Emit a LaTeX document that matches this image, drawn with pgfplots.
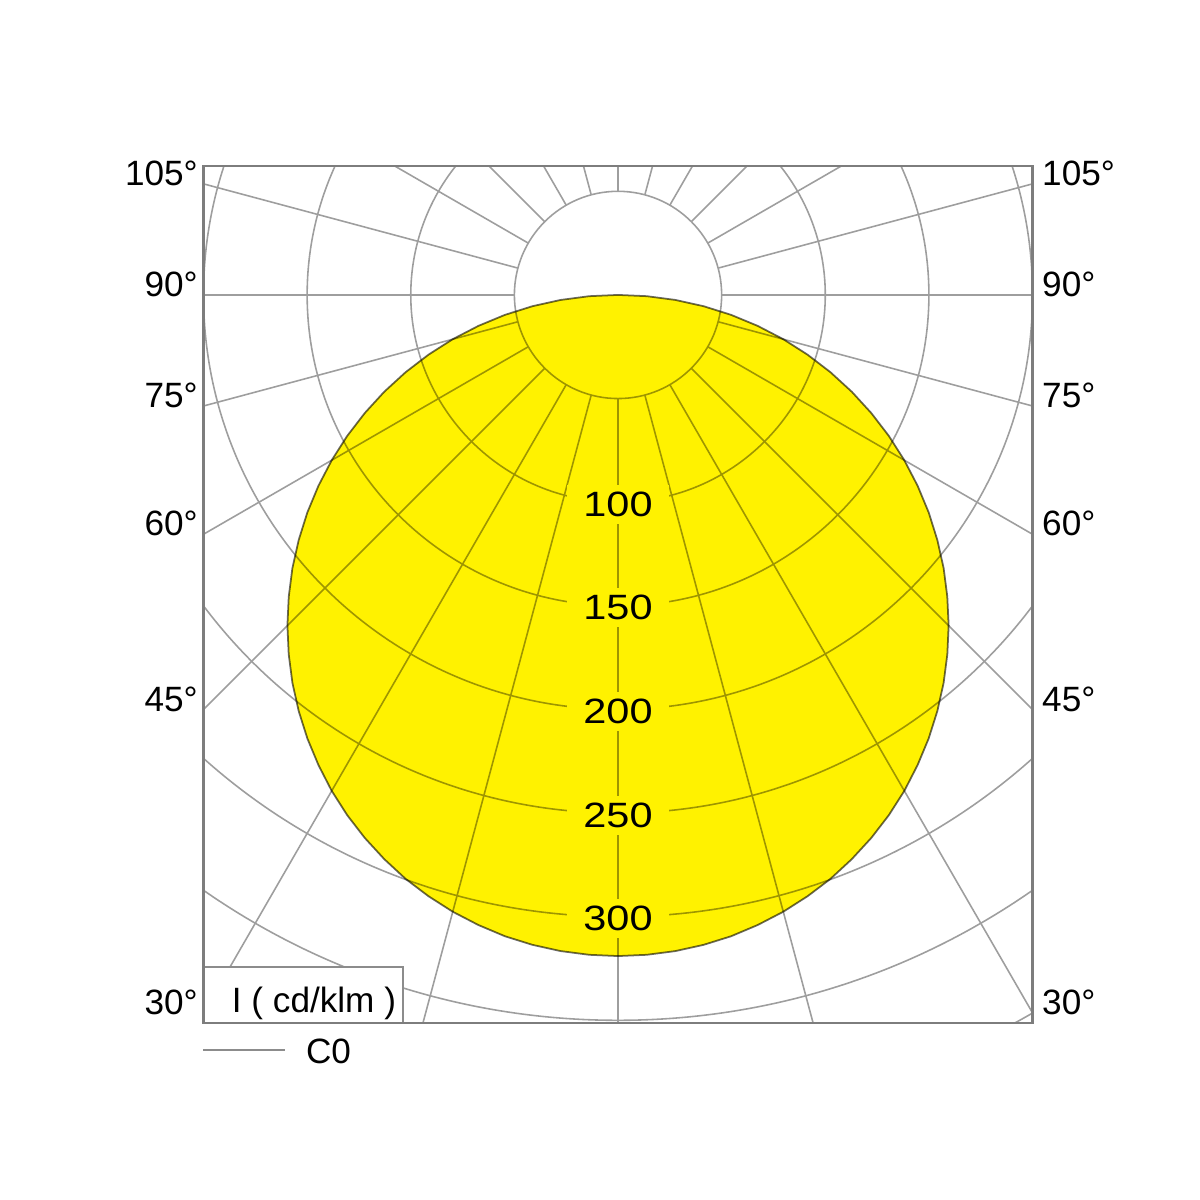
\documentclass[border=0pt]{standalone}
\usepackage{fontspec}
\setmainfont{Liberation Sans}
\usepackage{pgfplots}
\pgfplotsset{compat=1.18}
\definecolor{gridc}{RGB}{158,158,158}
\definecolor{framec}{RGB}{125,125,125}
\definecolor{curvec}{RGB}{105,105,105}
\definecolor{legc}{RGB}{140,140,140}
\begin{document}
\begin{tikzpicture}
\begin{axis}[x=0.020725cm, y=0.020725cm,
  xmin=-200, xmax=200, ymin=-351.3, ymax=62.2,
  hide axis, clip=false]
% grid
\begin{scope}
\clip (axis cs:-200,-351.3) rectangle (axis cs:200,62.2);
\pgfplotsinvokeforeach{50,100,...,400}{\draw[gridc, line width=0.45pt] (axis cs:0,0) circle[radius=#1];}
\pgfplotsinvokeforeach{0,15,...,345}{\draw[gridc, line width=0.45pt] (axis cs:{50*cos(#1)},{50*sin(#1)}) -- (axis cs:{520*cos(#1)},{520*sin(#1)});}
\end{scope}
% luminous intensity distribution, C0 plane (angle from +x axis, I in cd/klm)
\addplot[fill=yellow, draw=curvec, line width=0.5pt, blend mode=multiply, data cs=polar] coordinates {
(-180,0) (-177.5,13.9) (-175,27.8) (-172.5,41.6) (-170,55.4) (-167.5,69.0)
(-165,82.6) (-162.5,95.9) (-160,109.1) (-157.5,122.1) (-155,134.8) (-152.5,147.3)
(-150,159.5) (-147.5,171.4) (-145,183.0) (-142.5,194.2) (-140,205.1) (-137.5,215.5)
(-135,225.6) (-132.5,235.2) (-130,244.4) (-127.5,253.1) (-125,261.3) (-122.5,269.0)
(-120,276.3) (-117.5,283.0) (-115,289.1) (-112.5,294.7) (-110,299.8) (-107.5,304.2)
(-105,308.1) (-102.5,311.4) (-100,314.2) (-97.5,316.3) (-95,317.8) (-92.5,318.7)
(-90,319.0)
(-87.5,318.7) (-85,317.8) (-82.5,316.3) (-80,314.2) (-77.5,311.4) (-75,308.1)
(-72.5,304.2) (-70,299.8) (-67.5,294.7) (-65,289.1) (-62.5,283.0) (-60,276.3)
(-57.5,269.0) (-55,261.3) (-52.5,253.1) (-50,244.4) (-47.5,235.2) (-45,225.6)
(-42.5,215.5) (-40,205.1) (-37.5,194.2) (-35,183.0) (-32.5,171.4) (-30,159.5)
(-27.5,147.3) (-25,134.8) (-22.5,122.1) (-20,109.1) (-17.5,95.9) (-15,82.6)
(-12.5,69.0) (-10,55.4) (-7.5,41.6) (-5,27.8) (-2.5,13.9) (0,0)
};
% radial value labels
\pgfplotsinvokeforeach{100,150,200,250,300}{\node[fill=yellow, inner xsep=0.16cm, inner ysep=0.07cm, yshift=-0.02cm] at (axis cs:0,-#1) {\scalebox{1.18}[1]{#1}};}
% legend box
\draw[legc, line width=0.5pt, fill=white] (axis cs:-200,-324.2) rectangle (axis cs:-103.7,-351.3);
\node[anchor=base, inner sep=0pt] at (axis cs:-146.7,-346.4) {I ( cd/klm )};
% frame
\draw[framec, line width=0.6pt] (axis cs:-200,-351.3) rectangle (axis cs:200,62.2);
% C0 legend entry
\draw[legc, line width=0.6pt] (axis cs:-200.2,-364.3) -- (axis cs:-160.7,-364.3);
\node[anchor=base, inner sep=0pt] at (axis cs:-139.7,-370.6) {C0};
% angle labels
\foreach \a/\yy in {105/53.6, 90/0, 75/-53.6, 60/-115.5, 45/-200, 30/-346.4}{
  \edef\temp{\noexpand\node[anchor=east, inner sep=0pt, xshift=-0.05cm, yshift=0.105cm] at (axis cs:-200,\yy) {\a°};
  \noexpand\node[anchor=west, inner sep=0pt, xshift=0.09cm, yshift=0.105cm] at (axis cs:200,\yy) {\a°};}
  \temp
}
\coordinate (bbl) at (axis cs:-298.2,-436.7);
\coordinate (btr) at (axis cs:280.8,142.3);
\end{axis}
\pgfresetboundingbox
\path[use as bounding box] (bbl) rectangle (btr);
\end{tikzpicture}
\end{document}
